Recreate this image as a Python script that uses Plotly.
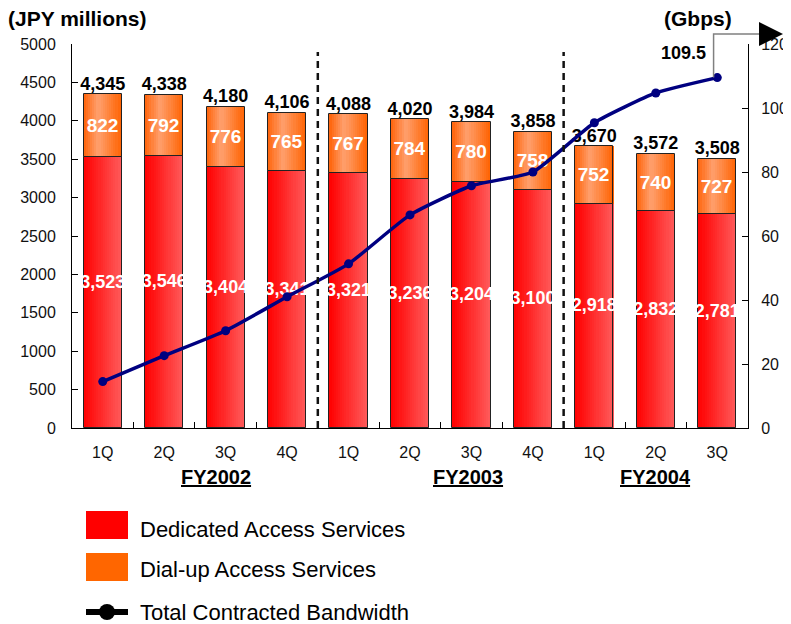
import plotly.graph_objects as go

# chart data
quarters = ['1Q', '2Q', '3Q', '4Q', '1Q', '2Q', '3Q', '4Q', '1Q', '2Q', '3Q']
fiscal_years = ['FY2002', 'FY2003', 'FY2004']
dedicated = [3523, 3546, 3404, 3341, 3321, 3236, 3204, 3100, 2918, 2832, 2781]
dialup = [822, 792, 776, 765, 767, 784, 780, 758, 752, 740, 727]
bandwidth = [14.5, 22.6, 30.4, 41.0, 51.3, 66.6, 75.7, 80.0, 95.4, 104.7, 109.5]

FONT = "Arial, 'Liberation Sans', sans-serif"
# the page body has an 8px margin, so the figure is made smaller and
# all layout positions below are given in window pixels
OFF = 8
WIN_W, WIN_H = 791, 624
PLOT_L, PLOT_R, PLOT_T, PLOT_B = 72, 748, 44, 428
W, H = WIN_W - OFF, WIN_H - OFF
L, T = PLOT_L - OFF, PLOT_T - OFF
R, B = W + OFF - PLOT_R, H + OFF - PLOT_B
PW, PH = PLOT_R - PLOT_L, PLOT_B - PLOT_T

def xp(px):
    return (px - PLOT_L) / PW

def yp(py):
    return (PLOT_B - py) / PH

idx = list(range(len(quarters)))
ncat = len(idx)
totals = [a + b for a, b in zip(dedicated, dialup)]

def xcat(v):
    # category coordinate -> paper coordinate
    return (v + 0.5) / ncat

def mix(c1, c2, t):
    return 'rgb(%d,%d,%d)' % tuple(round(a + (b - a) * t) for a, b in zip(c1, c2))

def red_grad(t):
    return mix((255, 0, 0), (255, 92, 92), t)

def orange_grad(t):
    if t < 0.38:
        return mix((255, 100, 10), (255, 160, 110), t / 0.38)
    return mix((255, 160, 110), (255, 98, 0), (t - 0.38) / 0.62)

fig = go.Figure()

# gradient bars built from thin slices
bw = 0.62
n = 18
sw = bw / n
for k in range(n):
    t = (k + 0.5) / n
    off = -bw / 2 + k * sw
    fig.add_trace(go.Bar(
        x=idx, y=dedicated, base=[0] * ncat,
        width=sw * 1.08, offset=off,
        marker=dict(color=red_grad(t), line=dict(width=0)),
        showlegend=False, hoverinfo='skip'
    ))
    fig.add_trace(go.Bar(
        x=idx, y=dialup, base=dedicated,
        width=sw * 1.08, offset=off,
        marker=dict(color=orange_grad(t), line=dict(width=0)),
        showlegend=False, hoverinfo='skip'
    ))

# outlines + dial-up labels
fig.add_trace(go.Bar(
    x=idx, y=dedicated, base=[0] * ncat, width=bw, offset=-bw / 2,
    marker=dict(color='rgba(0,0,0,0)', line=dict(color='#222', width=1)),
    showlegend=False, hoverinfo='skip'
))
fig.add_trace(go.Bar(
    x=idx, y=dialup, base=dedicated, width=bw, offset=-bw / 2,
    marker=dict(color='rgba(0,0,0,0)', line=dict(color='#222', width=1)),
    text=[str(v) for v in dialup], textposition='inside',
    insidetextanchor='middle', textangle=0, constraintext='none',
    textfont=dict(family=FONT, size=19, color='white', weight='bold'),
    showlegend=False, hoverinfo='skip'
))

# dedicated labels (white, inside the red part)
fig.add_trace(go.Scatter(
    x=idx, y=[v / 2 for v in dedicated], mode='text',
    text=[f'{v:,}' for v in dedicated], textposition='top center',
    textfont=dict(family=FONT, size=18, color='white', weight='bold'),
    showlegend=False, hoverinfo='skip'
))

# totals above bars
fig.add_trace(go.Scatter(
    x=idx, y=totals, mode='text',
    text=[f'{v:,}' for v in totals], textposition='top center',
    textfont=dict(family=FONT, size=18, color='black', weight='bold'),
    showlegend=False, hoverinfo='skip'
))

# bandwidth line on secondary axis
fig.add_trace(go.Scatter(
    x=idx, y=bandwidth, yaxis='y2', mode='lines+markers',
    line=dict(color='#000080', width=3.5, shape='spline', smoothing=0.5),
    marker=dict(size=9, color='#000080'),
    showlegend=False, hoverinfo='skip'
))

shapes = []
# fiscal year dividers
for xd in (3.5, 7.5):
    shapes.append(dict(type='line', xref='x', yref='paper', x0=xd, x1=xd,
                       y0=0, y1=yp(52), line=dict(color='#111', width=2.5, dash='7px,5px')))

# connector from last bandwidth point up and over to the arrow
last = ncat - 1
cx = xcat(last - 0.06)
shapes.append(dict(type='path', xref='paper', yref='paper',
                   path=f'M {cx},{bandwidth[-1] / 120} L {cx},{yp(34)} L {xcat(last + 0.8)},{yp(34)}',
                   line=dict(color='#808080', width=1.5)))

# legend swatches
shapes.append(dict(type='rect', xref='paper', yref='paper', x0=xp(86), x1=xp(128),
                   y0=yp(539), y1=yp(511), fillcolor='#FF0000', line=dict(width=0)))
shapes.append(dict(type='rect', xref='paper', yref='paper', x0=xp(86), x1=xp(128),
                   y0=yp(581), y1=yp(553), fillcolor='#FF6600', line=dict(width=0)))
shapes.append(dict(type='line', xref='paper', yref='paper', x0=xp(86), x1=xp(128),
                   y0=yp(612), y1=yp(612), line=dict(color='black', width=6)))
shapes.append(dict(type='circle', xref='paper', yref='paper', x0=xp(99), x1=xp(115),
                   y0=yp(620), y1=yp(604), fillcolor='black', line=dict(width=0)))

ann = []
# arrow head
ann.append(dict(xref='paper', yref='paper', x=xcat(last + 1.07), y=yp(34),
                axref='pixel', ayref='pixel', ax=-18, ay=0, showarrow=True,
                arrowhead=2, arrowsize=1.6, arrowwidth=3, arrowcolor='black', text=''))
ann.append(dict(xref='x', yref='paper', x=last - 0.55, y=yp(53), text='<b>109.5</b>',
                xanchor='center', yanchor='middle', showarrow=False,
                font=dict(family=FONT, size=18, color='black')))
# axis titles
ann.append(dict(xref='paper', yref='paper', x=xp(6), y=yp(19), xanchor='left',
                yanchor='middle', text='<b>(JPY millions)</b>', showarrow=False,
                font=dict(family=FONT, size=21, color='black')))
ann.append(dict(xref='paper', yref='paper', x=xp(698), y=yp(19), xanchor='center',
                yanchor='middle', text='<b>(Gbps)</b>', showarrow=False,
                font=dict(family=FONT, size=21, color='black')))
# fiscal year labels
for fy, pos in zip(fiscal_years, (1.85, 5.95, 9.0)):
    ann.append(dict(xref='x', yref='paper', x=pos, y=yp(477), text=f'<b><u>{fy}</u></b>',
                    xanchor='center', yanchor='middle', showarrow=False,
                    font=dict(family=FONT, size=20, color='black')))
# legend texts
for label, py in (('Dedicated Access Services', 529), ('Dial-up Access Services', 569),
                  ('Total Contracted Bandwidth', 612)):
    ann.append(dict(xref='paper', yref='paper', x=xp(138), y=yp(py), xanchor='left',
                    yanchor='middle', text=label, showarrow=False,
                    font=dict(family=FONT, size=22, color='black')))

fig.update_layout(
    width=W, height=H,
    margin=dict(l=L, r=R, t=T, b=B),
    paper_bgcolor='white', plot_bgcolor='white',
    barmode='overlay', bargap=0,
    showlegend=False,
    font=dict(family=FONT, size=16, color='#111'),
    xaxis=dict(
        range=[-0.5, ncat - 0.5], tickmode='array', tickvals=idx, ticktext=quarters,
        ticks='', showline=True, linecolor='black', linewidth=1, showgrid=False,
        zeroline=False, automargin=False, ticklabelstandoff=10, tickfont=dict(size=16),
        minor=dict(tickmode='array', tickvals=[i + 0.5 for i in idx[:-1]],
                   ticks='inside', ticklen=6, tickcolor='black', showgrid=False)
    ),
    yaxis=dict(
        range=[0, 5000], dtick=500, ticks='inside', ticklen=6, tickcolor='black',
        showline=True, linecolor='black', linewidth=1, showgrid=False, zeroline=False,
        automargin=False, tickfont=dict(size=16), ticklabelstandoff=12
    ),
    yaxis2=dict(
        range=[0, 120], dtick=20, overlaying='y', side='right', ticks='inside',
        ticklen=6, tickcolor='black', showline=True, linecolor='black', linewidth=1,
        showgrid=False, zeroline=False, automargin=False, tickfont=dict(size=16),
        ticklabelstandoff=9
    ),
    shapes=shapes,
    annotations=ann,
)

fig.write_html("out.html")
